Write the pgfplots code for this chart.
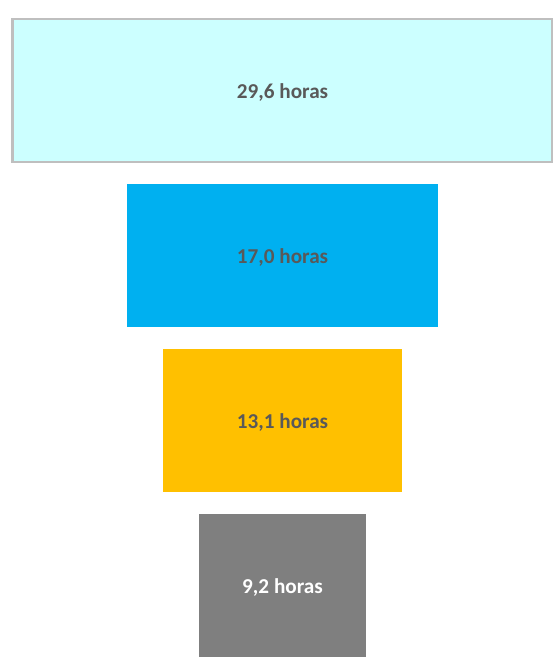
\documentclass[border=0pt]{standalone}
\usepackage{pgfplots}
\pgfplotsset{compat=1.18}
\usepackage{fontspec}
\setmainfont{Carlito}
\definecolor{c1}{HTML}{CCFFFF}
\definecolor{c2}{HTML}{00B0F0}
\definecolor{c3}{HTML}{FFC000}
\definecolor{c4}{HTML}{7F7F7F}
\definecolor{bord}{HTML}{BFBFBF}
\definecolor{txt}{HTML}{595959}
\pgfplotsset{
  funnel/.style={
    width=276.5pt, height=328.5pt, scale only axis, hide axis,
    xmin=-0.685, xmax=29.627, ymin=-0.5485, ymax=3.4333, y dir=reverse,
    at={(0,0)}, anchor=south west,
  }
}
\begin{document}
\begin{tikzpicture}
% bar 1 (no offset)
\begin{axis}[funnel, xbar, bar width=0.8667]
\addplot[fill=c1, draw=bord, line width=1.25pt] coordinates {(29.6,0)};
\end{axis}
% bars 2-4, centred with invisible offsets
\begin{axis}[funnel, xbar stacked, bar width=0.8667]
\addplot[draw=none, fill=none] coordinates {(6.3,1) (8.25,2) (10.2,3)};
\addplot[draw=none, fill=c2] coordinates {(17.0,1) (0,2) (0,3)};
\addplot[draw=none, fill=c3] coordinates {(0,1) (13.1,2) (0,3)};
\addplot[draw=none, fill=c4] coordinates {(0,1) (0,2) (9.2,3)};
\end{axis}
% labels
\begin{axis}[funnel]
\addplot[draw=none, mark=none, nodes near coords, point meta=explicit symbolic,
  every node near coord/.append style={anchor=center, yshift=-1.1pt, text=txt, font=\fontsize{10.6pt}{12pt}\selectfont\bfseries}]
  coordinates {(14.8,0) [29,6 horas] (14.8,1) [17,0 horas] (14.8,2) [13,1 horas]};
\addplot[draw=none, mark=none, nodes near coords, point meta=explicit symbolic,
  every node near coord/.append style={anchor=center, yshift=-1.1pt, text=white, font=\fontsize{10.6pt}{12pt}\selectfont\bfseries}]
  coordinates {(14.8,3) [9,2 horas]};
\end{axis}
\pgfresetboundingbox
\path (current axis.south west) rectangle (current axis.north east);
\end{tikzpicture}
\end{document}
